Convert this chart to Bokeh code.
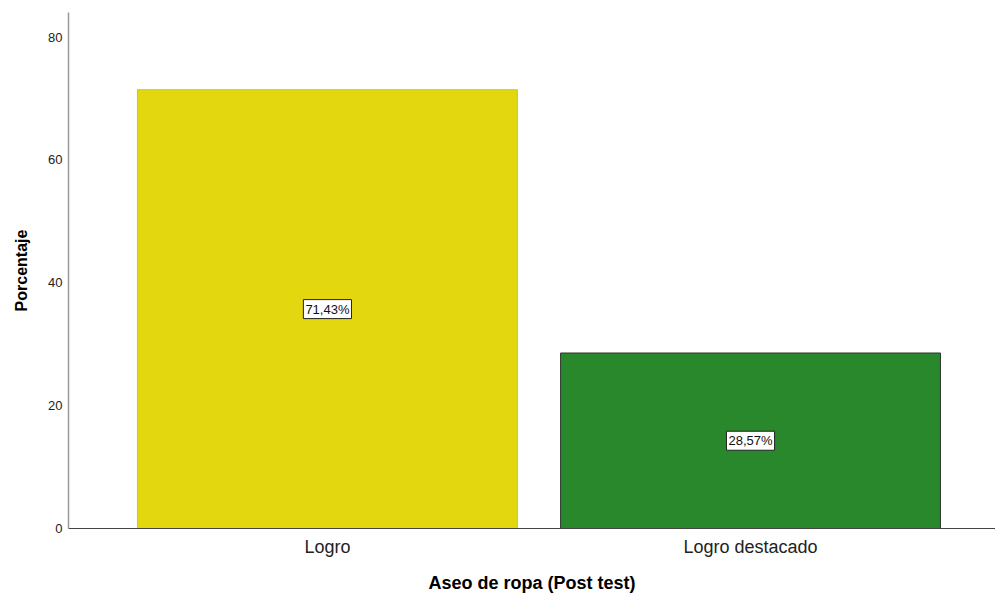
from bokeh.plotting import figure
from bokeh.models import Range1d, FixedTicker, ColumnDataSource
from bokeh.core.properties import value
from bokeh.embed import file_html
from bokeh.resources import INLINE

categories = ["Logro", "Logro destacado"]
percentages = [71.43, 28.57]
label_texts = ["71,43%", "28,57%"]
bar_colors = ["#E3D70F", "#29882B"]
bar_lines = ["#D2C710", "#2F3A2F"]
y_ticks = [0, 20, 40, 60, 80]

xs = list(range(len(categories)))
src = ColumnDataSource(dict(
    x=xs, top=percentages, mid=[v / 2 for v in percentages],
    text=label_texts, color=bar_colors, line=bar_lines,
))

FONT = "Liberation Sans"

p = figure(width=995, height=595, output_backend="svg", toolbar_location=None,
           x_range=Range1d(-0.612, 1.579), y_range=Range1d(0, 84),
           min_border_left=68, min_border_top=12, min_border_right=0, min_border_bottom=0)
p.outline_line_color = None
p.xgrid.grid_line_color = None
p.ygrid.grid_line_color = None
p.background_fill_color = "white"

p.vbar(x="x", top="top", width=0.898, bottom=0, source=src,
       fill_color="color", line_color="line", line_width=1)

p.text(x="x", y="mid", text="text", source=src,
       text_align="center", text_baseline="middle",
       text_font=value(FONT), text_font_size="13px", text_color="#111111",
       background_fill_color="white", border_line_color="#222222",
       border_line_width=1, padding=2)

# y axis
p.yaxis.ticker = FixedTicker(ticks=y_ticks)
p.yaxis.axis_label = "Porcentaje"
p.yaxis.axis_label_text_font = FONT
p.yaxis.axis_label_text_font_style = "bold"
p.yaxis.axis_label_text_font_size = "16px"
p.yaxis.axis_label_text_color = "#000000"
p.yaxis.axis_label_standoff = 15
p.yaxis.major_label_text_font = FONT
p.yaxis.major_label_text_font_size = "13px"
p.yaxis.major_label_text_color = "#222222"
p.yaxis.major_label_standoff = 6
p.yaxis.major_tick_out = 0
p.yaxis.major_tick_in = 0
p.yaxis.minor_tick_out = 0
p.yaxis.minor_tick_in = 0
p.yaxis.major_tick_line_color = None
p.yaxis.minor_tick_line_color = None
p.yaxis.axis_line_color = "#999999"
p.yaxis.axis_line_width = 1.5

# x axis
p.xaxis.ticker = FixedTicker(ticks=xs)
p.xaxis.major_label_overrides = {i: c for i, c in zip(xs, categories)}
p.xaxis.axis_label = "Aseo de ropa (Post test)"
p.xaxis.axis_label_text_font = FONT
p.xaxis.axis_label_text_font_style = "bold"
p.xaxis.axis_label_text_font_size = "18px"
p.xaxis.axis_label_text_color = "#000000"
p.xaxis.axis_label_standoff = 13
p.xaxis.major_label_text_font = FONT
p.xaxis.major_label_text_font_size = "18px"
p.xaxis.major_label_text_color = "#222222"
p.xaxis.major_label_standoff = 8
p.xaxis.major_tick_out = 0
p.xaxis.major_tick_in = 0
p.xaxis.minor_tick_out = 0
p.xaxis.minor_tick_in = 0
p.xaxis.major_tick_line_color = None
p.xaxis.minor_tick_line_color = None
p.xaxis.axis_line_color = "#444444"
p.xaxis.axis_line_width = 1

open("out.html", "w").write(file_html(p, INLINE))
